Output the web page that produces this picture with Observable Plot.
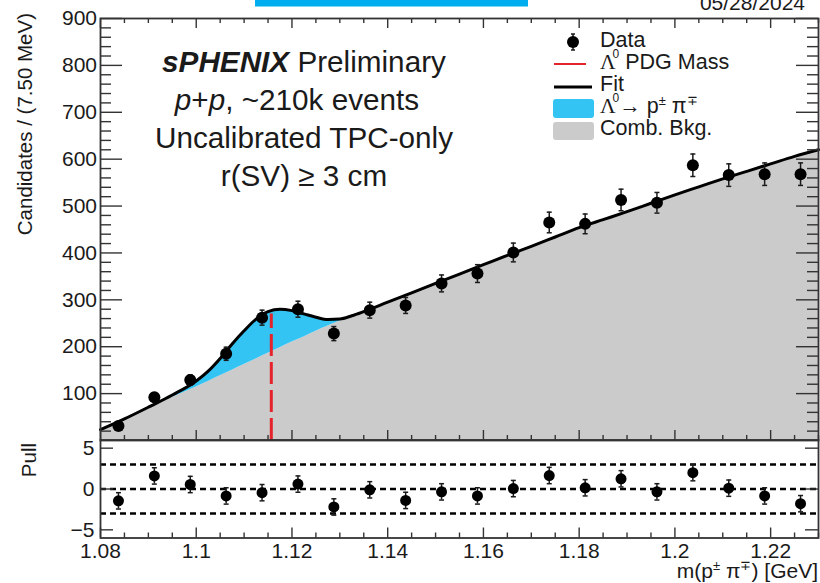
<!DOCTYPE html>
<html>
<head>
<meta charset="utf-8">
<script src="https://cdn.jsdelivr.net/npm/d3@7"></script>
<script src="https://cdn.jsdelivr.net/npm/@observablehq/plot@0.6"></script>
<style>
  body { margin: 0; background: #fff; }
  #chart { position: relative; width: 820px; height: 583px; overflow: hidden; background: #fff; }
  #chart svg { position: absolute; left: 0; }
</style>
</head>
<body>
<div id="chart"></div>
<script>
// Invariant mass of p± π∓ pairs, 7.5 MeV bins
const binCenters = [1.08375, 1.09125, 1.09875, 1.10625, 1.11375, 1.12125, 1.12875, 1.13625, 1.14375, 1.15125,
                    1.15875, 1.16625, 1.17375, 1.18125, 1.18875, 1.19625, 1.20375, 1.21125, 1.21875, 1.22625];
const candidates = [31, 92, 129, 185, 262, 280, 228, 278, 288, 335, 356, 401, 465, 462, 513, 507, 587, 566, 568, 568];
const candidateErrors = [6, 10, 11, 14, 16, 17, 15, 17, 17, 18, 19, 20, 22, 21, 23, 22, 24, 24, 24, 24];
const pulls = [-1.45, 1.6, 0.55, -0.85, -0.45, 0.6, -2.2, -0.1, -1.4, -0.35,
               -0.85, 0.05, 1.65, 0.15, 1.25, -0.35, 2.0, 0.1, -0.85, -1.8];

// Fit curve: total (signal + background) and the combinatorial background alone
const curveMass = [1.080, 1.085, 1.090, 1.095, 1.100, 1.1025, 1.105, 1.1075, 1.110, 1.1125, 1.115, 1.1175, 1.120,
                   1.1225, 1.125, 1.1275, 1.130, 1.1325, 1.135, 1.140, 1.145, 1.150, 1.155, 1.160, 1.165, 1.170,
                   1.175, 1.180, 1.185, 1.190, 1.195, 1.200, 1.205, 1.210, 1.215, 1.220, 1.225, 1.230];
const fitTotal = [23, 46, 71, 97, 127, 148, 175, 206, 234, 259, 275, 280, 277,
                  270, 263, 258, 259, 266, 275, 295, 315, 335, 355, 375, 395, 414,
                  434, 454, 471, 488, 506, 524, 541, 558, 574, 590, 606, 620];
const fitBackground = [23, 46, 69, 92, 114, 126, 138, 150, 162, 174, 186, 198, 210,
                       221, 233, 244, 255, 265, 275, 295, 315, 335, 355, 375, 395, 414,
                       434, 454, 471, 488, 506, 524, 541, 558, 574, 590, 606, 620];

const pdgMass = 1.115683;   // Λ0 PDG mass [GeV]
const pdgLineTop = 270;

// Axis ticks
const xMajorTicks = [1.08, 1.10, 1.12, 1.14, 1.16, 1.18, 1.20, 1.22];
const yMajorTicks = [100, 200, 300, 400, 500, 600, 700, 800, 900];
const pullTicks = [-5, 0, 5];
const pullGuides = [-3, 0, 3];

const FONT = '"Liberation Sans", Arial, Helvetica, sans-serif';
const INK = "#1a1a1a";
const FRAME = "#333";
const BLUE = "#33c4f4";
const GRAY = "#cbcbcb";
const RED = "#e3242b";

const points = binCenters.map((m, i) => ({m, n: candidates[i], e: candidateErrors[i], pull: pulls[i]}));
const curveRows = curveMass.map((m, i) => ({m, fit: fitTotal[i], bkg: fitBackground[i]}));

const xMinor = d3.range(0, 31).map(i => 1.08 + i * 0.005).filter(v => !xMajorTicks.some(t => Math.abs(t - v) < 1e-6));
const yMinor = d3.range(0, 46).map(i => i * 20).filter(v => v % 100 !== 0);

// horizontal error-bar cap drawn as a dot symbol
const cap = {draw(ctx, size) { const r = Math.sqrt(size / Math.PI); ctx.moveTo(-r, 0); ctx.lineTo(r, 0); }};

const W = 820, ML = 100, MR = 2;
const innerW = W - ML - MR;
const tick = {stroke: FRAME, strokeWidth: 1.4};
const xFmt = d => String(+d.toFixed(2));

// ---- upper panel: candidates with fit ----
const upH = 441, upMT = 18, upMB = 1;
const upInner = upH - upMT - upMB;
const upper = Plot.plot({
  width: W, height: upH, marginTop: upMT, marginBottom: upMB, marginLeft: ML, marginRight: MR,
  x: {domain: [1.08, 1.23], axis: null},
  y: {domain: [0, 900], axis: null},
  style: {fontFamily: FONT, fontSize: "21px", color: INK, background: "transparent", overflow: "visible"},
  marks: [
    Plot.areaY(curveRows, {x: "m", y: "bkg", fill: GRAY, curve: "monotone-x"}),
    Plot.areaY(curveRows, {x: "m", y1: "bkg", y2: "fit", fill: BLUE, curve: "monotone-x"}),
    Plot.ruleX([pdgMass], {y1: 0, y2: pdgLineTop, stroke: RED, strokeWidth: 3, strokeDasharray: "22,6"}),
    Plot.line(curveRows, {x: "m", y: "fit", stroke: "#000", strokeWidth: 3, curve: "monotone-x"}),
    Plot.ruleX(points, {x: "m", y1: d => d.n - d.e, y2: d => d.n + d.e, stroke: INK, strokeWidth: 1.5}),
    Plot.dot(points, {x: "m", y: d => d.n + d.e, symbol: cap, r: 2.5, fill: "none", stroke: INK, strokeWidth: 1.5}),
    Plot.dot(points, {x: "m", y: d => d.n - d.e, symbol: cap, r: 2.5, fill: "none", stroke: INK, strokeWidth: 1.5}),
    Plot.dot(points, {x: "m", y: "n", r: 6, fill: "#000"}),
    Plot.ruleY(yMajorTicks, {insetRight: innerW - 22, ...tick}),
    Plot.ruleY(yMinor, {insetRight: innerW - 11, ...tick}),
    Plot.ruleY(yMajorTicks, {insetLeft: innerW - 22, ...tick}),
    Plot.ruleY(yMinor, {insetLeft: innerW - 11, ...tick}),
    Plot.ruleX(xMajorTicks, {insetTop: upInner - 10, ...tick}),
    Plot.ruleX(xMinor, {insetTop: upInner - 5, ...tick}),
    Plot.ruleX(xMajorTicks, {insetBottom: upInner - 10, ...tick}),
    Plot.ruleX(xMinor, {insetBottom: upInner - 5, ...tick}),
    Plot.axisY({ticks: yMajorTicks, tickSize: 0, tickPadding: 3.5, label: null}),
    Plot.frame({stroke: FRAME, strokeWidth: 1.8})
  ]
});
upper.style.top = "0px";

// ---- lower panel: pulls ----
const loH = 144, loMT = 0.5, loMB = 45.5;
const loInner = loH - loMT - loMB;
const lower = Plot.plot({
  width: W, height: loH, marginTop: loMT, marginBottom: loMB, marginLeft: ML, marginRight: MR,
  x: {domain: [1.08, 1.23], axis: null},
  y: {domain: [-6, 6], axis: null},
  style: {fontFamily: FONT, fontSize: "21px", color: INK, background: "transparent", overflow: "visible"},
  marks: [
    Plot.ruleY(pullGuides, {stroke: "#000", strokeWidth: 2.5, strokeDasharray: "6,4"}),
    Plot.ruleX(points, {x: "m", y1: d => d.pull - 1, y2: d => d.pull + 1, stroke: INK, strokeWidth: 1.5}),
    Plot.dot(points, {x: "m", y: d => d.pull + 1, symbol: cap, r: 2.5, fill: "none", stroke: INK, strokeWidth: 1.5}),
    Plot.dot(points, {x: "m", y: d => d.pull - 1, symbol: cap, r: 2.5, fill: "none", stroke: INK, strokeWidth: 1.5}),
    Plot.dot(points, {x: "m", y: "pull", r: 5.5, fill: "#000"}),
    Plot.ruleY(pullTicks, {insetRight: innerW - 13, ...tick}),
    Plot.ruleY(pullTicks, {insetLeft: innerW - 13, ...tick}),
    Plot.ruleX(xMajorTicks, {insetTop: loInner - 10, ...tick}),
    Plot.ruleX(xMinor, {insetTop: loInner - 5, ...tick}),
    Plot.axisY({ticks: pullTicks, tickSize: 0, tickPadding: 6, label: null}),
    Plot.axisX({ticks: xMajorTicks, tickSize: 0, tickPadding: 5.5, tickFormat: xFmt, label: null}),
    Plot.frame({stroke: FRAME, strokeWidth: 1.8})
  ]
});
lower.style.top = "439px";

// ---- titles, annotations and legend ----
const overlay = d3.create("svg")
  .attr("width", W).attr("height", 583)
  .attr("font-family", FONT).attr("fill", INK)
  .style("top", "0px").style("pointer-events", "none");

overlay.html(`
  <rect x="255" y="0" width="273" height="6.5" fill="#00aeef"/>
  <text x="805" y="10" text-anchor="end" font-size="21">05/28/2024</text>

  <text transform="translate(32,13) rotate(-90)" text-anchor="end" font-size="20.5">Candidates / (7.50 MeV)</text>
  <text transform="translate(36,443) rotate(-90)" text-anchor="end" font-size="20.5">Pull</text>
  <text x="818" y="578" text-anchor="end" font-size="21">m(p<tspan dy="-8" font-size="13">±</tspan><tspan dy="8"> π</tspan><tspan dy="-8" font-size="13">∓</tspan><tspan dy="8">) [GeV]</tspan></text>

  <g font-size="29.7" text-anchor="middle">
    <text x="304" y="72"><tspan font-weight="bold" font-style="italic">sPHENIX</tspan> Preliminary</text>
    <text x="297" y="110"><tspan font-style="italic">p</tspan>+<tspan font-style="italic">p</tspan>, ~210k events</text>
    <text x="304" y="148">Uncalibrated TPC-only</text>
    <text x="304" y="185.5">r(SV) ≥ 3 cm</text>
  </g>

  <g font-size="21.5">
    <line x1="573" x2="573" y1="34" y2="50" stroke="${INK}" stroke-width="1.5"/>
    <line x1="571" x2="575" y1="34" y2="34" stroke="${INK}" stroke-width="1.5"/>
    <line x1="571" x2="575" y1="50" y2="50" stroke="${INK}" stroke-width="1.5"/>
    <circle cx="573" cy="42" r="6" fill="#000"/>
    <text x="600" y="47">Data</text>

    <line x1="554" x2="586" y1="64" y2="64" stroke="${RED}" stroke-width="2"/>
    <text x="600" y="69"><tspan font-family="Liberation Serif, serif">Λ</tspan><tspan dx="-3" dy="-11" font-size="12">0</tspan><tspan dy="11"> PDG Mass</tspan></text>

    <line x1="554" x2="592" y1="87" y2="87" stroke="#000" stroke-width="3"/>
    <text x="600" y="91">Fit</text>

    <rect x="553" y="99" width="41" height="19" rx="3" fill="${BLUE}"/>
    <text x="600" y="113"><tspan font-family="Liberation Serif, serif">Λ</tspan><tspan dx="-3" dy="-11" font-size="12">0</tspan><tspan dy="11">→ p</tspan><tspan dy="-8" font-size="13">±</tspan><tspan dy="8"> π</tspan><tspan dy="-8" font-size="13">∓</tspan></text>

    <rect x="553" y="122" width="41" height="18" rx="3" fill="${GRAY}"/>
    <text x="600" y="135">Comb. Bkg.</text>
  </g>
`);

const chart = document.getElementById("chart");
chart.append(upper, lower, overlay.node());
</script>
</body>
</html>
